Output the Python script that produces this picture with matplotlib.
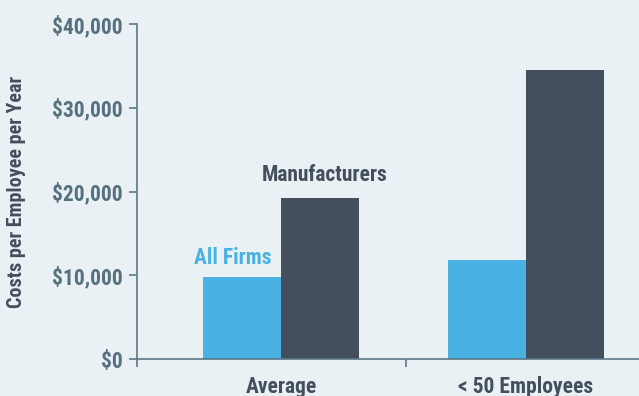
import numpy as np
import matplotlib.pyplot as plt
from matplotlib import font_manager

# data
groups = ['Average', '< 50 Employees']
all_firms = [9800, 11800]
manufacturers = [19200, 34500]
yticks = [0, 10000, 20000, 30000, 40000]
ytick_labels = ['$0', '$10,000', '$20,000', '$30,000', '$40,000']

# colours
bg = '#e9f1f5'
light = '#4ab1e3'
dark = '#434f5d'
axis_col = '#5d7887'
label_col = '#56707e'

# pick a condensed bold face if one is there
have = {f.name for f in font_manager.fontManager.ttflist}
font = 'DejaVu Sans'
for cand in ['Roboto Condensed', 'Fira Sans Condensed', 'IBM Plex Sans Condensed',
             'Barlow Semi Condensed', 'Archivo Narrow', 'Asap Condensed']:
    if cand in have:
        font = cand
        break
plt.rcParams['font.family'] = [font, 'DejaVu Sans']
plt.rcParams['font.weight'] = 'bold'
fs = 15.5

fig = plt.figure(figsize=(6.39, 3.96), dpi=100, facecolor=bg)
ax = fig.add_axes([137/639, 1-359/396, 1-137/639, (359-24)/396])
ax.set_facecolor(bg)

x = np.arange(len(groups))
w = 0.318
ax.bar(x - w/2, all_firms, w, color=light)
ax.bar(x + w/2, manufacturers, w, color=dark)

ax.set_ylim(0, 40000)
ax.set_xlim(-0.588, 1.461)

# series labels above the first group
ax.annotate('All Firms', (x[0] - w/2, all_firms[0]), xytext=(-7, 6),
            textcoords='offset points', ha='center', va='bottom',
            color=light, fontsize=fs, fontweight='bold')
ax.annotate('Manufacturers', (x[0] + w/2, manufacturers[0]), xytext=(3, 9),
            textcoords='offset points', ha='center', va='bottom',
            color=dark, fontsize=fs, fontweight='bold')

ax.set_yticks(yticks)
ax.set_yticklabels(ytick_labels, fontsize=fs, fontweight='bold', color=label_col)
ax.tick_params(axis='y', length=6, width=1.2, color=axis_col, pad=4)

# category names under the groups, ticks at group boundaries
ax.set_xticks([-0.588, 0.51])
ax.set_xticklabels([])
ax.tick_params(axis='x', length=6, width=1.2, color=axis_col)
for xi, g in zip(x, groups):
    ax.text(xi, -0.083, g, transform=ax.get_xaxis_transform(), ha='center', va='center',
            fontsize=fs, fontweight='bold', color=dark)

fig.text(17/639, 1-192/396, 'Costs per Employee per Year', rotation=90,
         ha='center', va='center', fontsize=14.5, fontweight='bold', color=dark)

for s in ['top', 'right']:
    ax.spines[s].set_visible(False)
for s in ['left', 'bottom']:
    ax.spines[s].set_color(axis_col)
    ax.spines[s].set_linewidth(1.2)

plt.savefig('out.png', dpi=100, facecolor=bg)
